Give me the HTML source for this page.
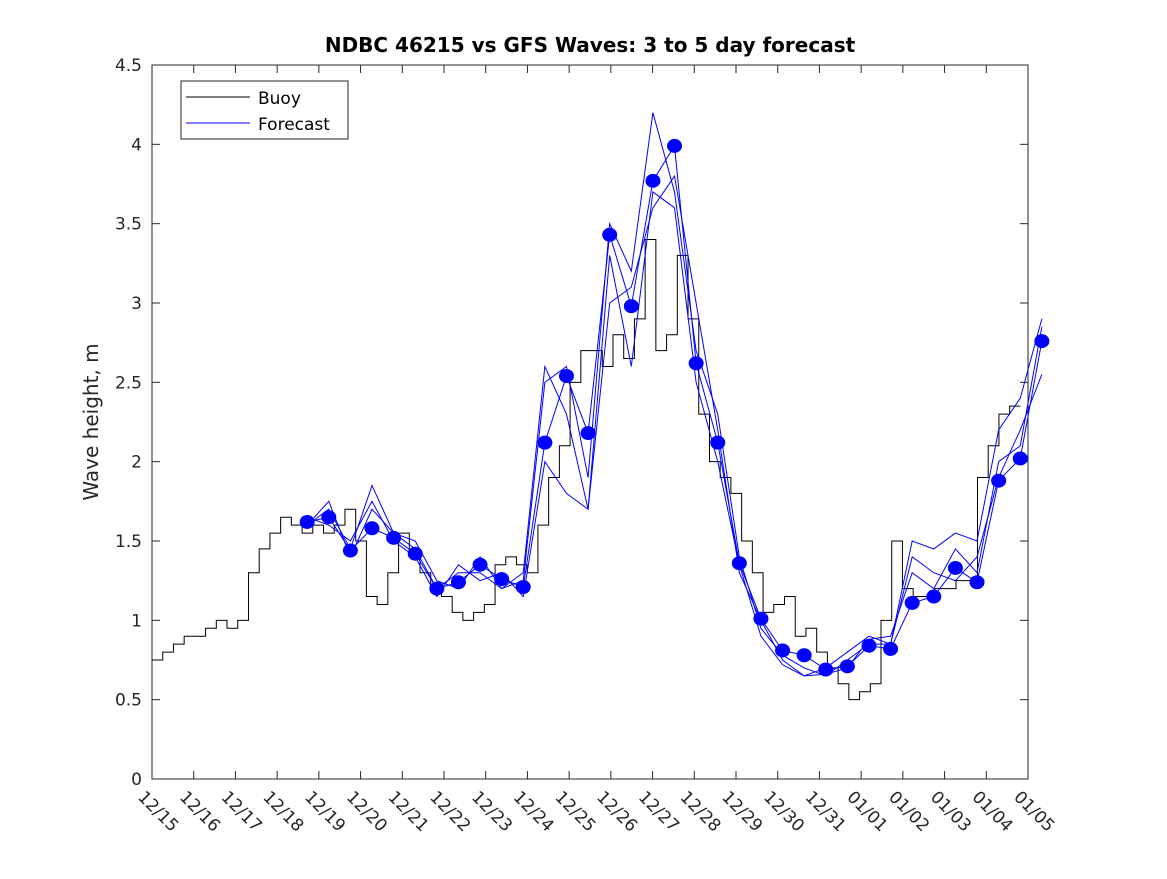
<!DOCTYPE html>
<html><head><meta charset="utf-8"><style>
body{margin:0;background:#fff;width:1167px;height:875px;overflow:hidden;font-family:"DejaVu Sans","Liberation Sans",sans-serif}
svg text{font-family:"DejaVu Sans","Liberation Sans",sans-serif}
</style></head><body>
<svg id="c" width="1167" height="875"></svg>
<script>
const xTicks=["12/15","12/16","12/17","12/18","12/19","12/20","12/21","12/22","12/23","12/24","12/25","12/26","12/27","12/28","12/29","12/30","12/31","01/01","01/02","01/03","01/04","01/05"];
const yTicks=[0,0.5,1,1.5,2,2.5,3,3.5,4,4.5];
const buoyStartDay=0, buoyStep=0.257;
const buoy=[0.75,0.8,0.85,0.9, 0.9,0.95,1.0,0.95, 1.0,1.3,1.45,1.55, 1.65,1.6,1.55,1.6, 1.55,1.6,1.7,1.5, 1.15,1.1,1.3,1.55, 1.4,1.3,1.2,1.15, 1.05,1.0,1.05,1.1, 1.35,1.4,1.35,1.3, 1.6,1.9,2.1,2.5, 2.7,2.7,2.6,2.8, 2.65,2.9,3.4,2.7, 2.8,3.3,2.9,2.3, 2.0,1.9,1.8,1.5, 1.3,1.05,1.1,1.15, 0.9,0.95,0.8,0.7, 0.6,0.5,0.55,0.6, 1.0,1.5,1.2,1.15, 1.15,1.2,1.2,1.25, 1.25,1.9,2.1,2.3,2.35];
const fcStartDay=3.72, fcStep=0.518;
const fcA=[1.62,1.65,1.44,1.58,1.52,1.42,1.20,1.24,1.35,1.26,1.21,2.12,2.54,2.18,3.43,2.98,3.77,3.99,2.62,2.12,1.36,1.01,0.81,0.78,0.69,0.71,0.84,0.82,1.11,1.15,1.33,1.24,1.88,2.02,2.76];
const fcB=[1.6,1.7,1.45,1.85,1.55,1.45,1.2,1.3,1.3,1.2,1.25,2.5,2.6,1.9,3.5,3.2,4.2,3.7,2.7,2.3,1.4,0.95,0.78,0.7,0.65,0.75,0.85,0.85,1.5,1.45,1.55,1.5,2.2,2.4,2.9];
const fcC=[1.65,1.6,1.5,1.75,1.5,1.4,1.15,1.35,1.25,1.3,1.15,2.0,1.8,1.7,3.0,3.1,3.6,3.8,3.0,2.2,1.3,1.0,0.75,0.65,0.7,0.8,0.9,0.85,1.4,1.3,1.25,1.4,1.9,2.2,2.55];
const fcD=[1.6,1.75,1.4,1.7,1.55,1.5,1.25,1.2,1.4,1.2,1.3,2.6,2.3,1.7,3.3,2.6,3.7,3.6,2.5,2.0,1.35,0.9,0.72,0.65,0.66,0.7,0.88,0.9,1.3,1.2,1.45,1.3,2.0,2.1,2.85];

const L=152,R=1028,T=65,B=779,NS="http://www.w3.org/2000/svg";
const xs=d=>L+d*(R-L)/21, ys=v=>B-v*(B-T)/4.5;
const svg=document.getElementById('c');
function mk(t,a,p){const e=document.createElementNS(NS,t);for(const k in a)e.setAttribute(k,a[k]);(p||svg).appendChild(e);return e;}
const frame=mk('rect',{x:L,y:T,width:R-L,height:B-T,fill:'#fff',stroke:'#262626','stroke-width':1});


xTicks.forEach((t,i)=>{const x=xs(i);
 mk('line',{x1:x,x2:x,y1:B,y2:B-8,stroke:'#262626'});mk('line',{x1:x,x2:x,y1:T,y2:T+8,stroke:'#262626'});
 const tx=mk('text',{x:0,y:0,transform:`translate(${x-15},${B+19}) rotate(45)`,'font-size':17,fill:'#262626'});tx.textContent=t;
 
 });
yTicks.forEach(v=>{const y=ys(v);
 mk('line',{x1:L,x2:L+8,y1:y,y2:y,stroke:'#262626'});mk('line',{x1:R,x2:R-8,y1:y,y2:y,stroke:'#262626'});
 const tx=mk('text',{x:L-10,y:y+6,'text-anchor':'end','font-size':17,fill:'#262626'});tx.textContent=v;
 
 });
const yt=mk('text',{x:0,y:0,transform:`translate(98,${(T+B)/2}) rotate(-90)`,'text-anchor':'middle','font-size':20,fill:'#262626'});yt.textContent='Wave height, m';


const tt=mk('text',{x:(L+R)/2,y:52,'text-anchor':'middle','font-size':20,'font-weight':'bold',fill:'#000'});tt.textContent='NDBC 46215 vs GFS Waves: 3 to 5 day forecast';


let pts=[];buoy.forEach((v,i)=>{const x0=xs(buoyStartDay+i*buoyStep),x1=xs(buoyStartDay+(i+1)*buoyStep);pts.push(x0+','+ys(v));pts.push(x1+','+ys(v));});
const bl=mk('polyline',{points:pts.join(' '),fill:'none',stroke:'#000','stroke-width':1});


[fcB,fcC,fcD,fcA].forEach((s,k)=>{const p=s.map((v,i)=>xs(fcStartDay+i*fcStep)+','+ys(v)).join(' ');
 const l=mk('polyline',{points:p,fill:'none',stroke:'#0000ff','stroke-width':1});
 
 });
fcA.forEach((v,i)=>{const c=mk('ellipse',{cx:xs(fcStartDay+i*fcStep),cy:ys(v),rx:7.5,ry:7,fill:'#0000ff'});
 
 });
const g=mk('g',{});


mk('rect',{x:181,y:81,width:167,height:58,fill:'#fff',stroke:'#262626'},g);
mk('line',{x1:186,x2:250,y1:97,y2:97,stroke:'#000'},g);
mk('line',{x1:186,x2:250,y1:123,y2:123,stroke:'#0000ff'},g);
const t1=mk('text',{x:258,y:104,'font-size':17,fill:'#000'},g);t1.textContent='Buoy';


const t2=mk('text',{x:258,y:130,'font-size':17,fill:'#000'},g);t2.textContent='Forecast';


</script>
</body></html>
